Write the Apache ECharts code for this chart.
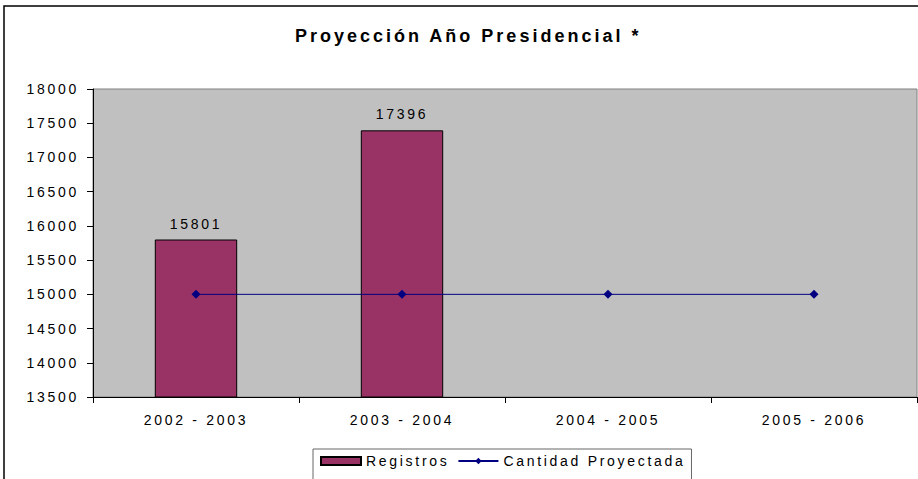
<!DOCTYPE html>
<html>
<head>
<meta charset="utf-8">
<style>
html,body{margin:0;padding:0;background:#fff;}
#chart{width:918px;height:479px;}
</style>
<script src="https://cdn.jsdelivr.net/npm/echarts@6/dist/echarts.min.js"></script>
</head>
<body>
<div id="chart"></div>
<script>
var titleText = 'Proyección Año Presidencial *';
var categories = ['2002 - 2003', '2003 - 2004', '2004 - 2005', '2005 - 2006'];
var registros = [15801, 17396, null, null];
var proyectada = [15000, 15000, 15000, 15000];
var seriesNames = ['Registros', 'Cantidad Proyectada'];

var FONT = "'Liberation Sans', Arial, Helvetica, sans-serif";
function spacingFor(fs) { return fs >= 17 ? 3 : 2.7; }

var mctx = document.createElement('canvas').getContext('2d');
echarts.setPlatformAPI({
  measureText: function (text, font) {
    mctx.font = font || ('12px ' + FONT);
    var w = mctx.measureText(text).width;
    if (text !== '国' && text && text.length) {
      var m = /(\d+(?:\.\d+)?)px/.exec(font || '');
      var fs = m ? parseFloat(m[1]) : 12;
      w += spacingFor(fs) * text.length;
    }
    return { width: w };
  }
});

var chart = echarts.init(document.getElementById('chart'), null, { renderer: 'svg' });

chart.on('finished', function () {
  var texts = document.querySelectorAll('#chart text');
  for (var i = 0; i < texts.length; i++) {
    var fs = parseFloat(getComputedStyle(texts[i]).fontSize) || 12;
    texts[i].style.letterSpacing = spacingFor(fs) + 'px';
  }
});

chart.setOption({
  animation: false,
  backgroundColor: '#ffffff',
  textStyle: { fontFamily: FONT },
  graphic: [{
    type: 'rect',
    shape: { x: 4, y: 6, width: 1000, height: 1000 },
    style: { fill: 'none', stroke: '#000', lineWidth: 1.5 },
    z: 0, silent: true
  }],
  title: {
    text: titleText,
    left: 295,
    top: 27,
    padding: 0,
    textStyle: { fontFamily: FONT, fontSize: 18, fontWeight: 'bold', color: '#000' }
  },
  grid: {
    left: 93, right: 1, top: 89, bottom: 82,
    show: true, backgroundColor: '#C0C0C0', borderColor: '#808080', borderWidth: 1
  },
  legend: {
    left: 313, top: 449,
    padding: [5, 6, 14, 7],
    itemGap: 8,
    itemWidth: 40, itemHeight: 8,
    borderColor: '#666', borderWidth: 1,
    backgroundColor: '#fff',
    textStyle: { fontFamily: FONT, fontSize: 14, color: '#000' },
    data: [
      { name: seriesNames[0], icon: 'rect' },
      { name: seriesNames[1] }
    ]
  },
  xAxis: {
    type: 'category',
    data: categories,
    boundaryGap: true,
    axisLine: { lineStyle: { color: '#000', width: 1 } },
    axisTick: { show: true, interval: 0, length: 6, lineStyle: { color: '#000' } },
    axisLabel: { fontFamily: FONT, fontSize: 14, color: '#000', margin: 16, interval: 0 },
    splitLine: { show: false }
  },
  yAxis: {
    type: 'value',
    min: 13500, max: 18000, interval: 500,
    axisLine: { show: true, lineStyle: { color: '#000', width: 1 } },
    axisTick: { show: true, length: 6, lineStyle: { color: '#000' } },
    axisLabel: {
      fontFamily: FONT, fontSize: 14, color: '#000', margin: 14,
      formatter: function (v) { return String(v); }
    },
    splitLine: { show: false }
  },
  series: [
    {
      name: seriesNames[0],
      type: 'bar',
      data: registros,
      barWidth: '40%',
      itemStyle: { color: '#993366', borderColor: '#000', borderWidth: 1 },
      label: {
        show: true, position: 'top', distance: 9,
        fontFamily: FONT, fontSize: 14, color: '#000'
      },
      z: 2
    },
    {
      name: seriesNames[1],
      type: 'line',
      data: proyectada,
      symbol: 'diamond',
      symbolSize: 9,
      lineStyle: { color: '#000080', width: 1 },
      itemStyle: { color: '#000080' },
      z: 3
    }
  ]
});
</script>
</body>
</html>
